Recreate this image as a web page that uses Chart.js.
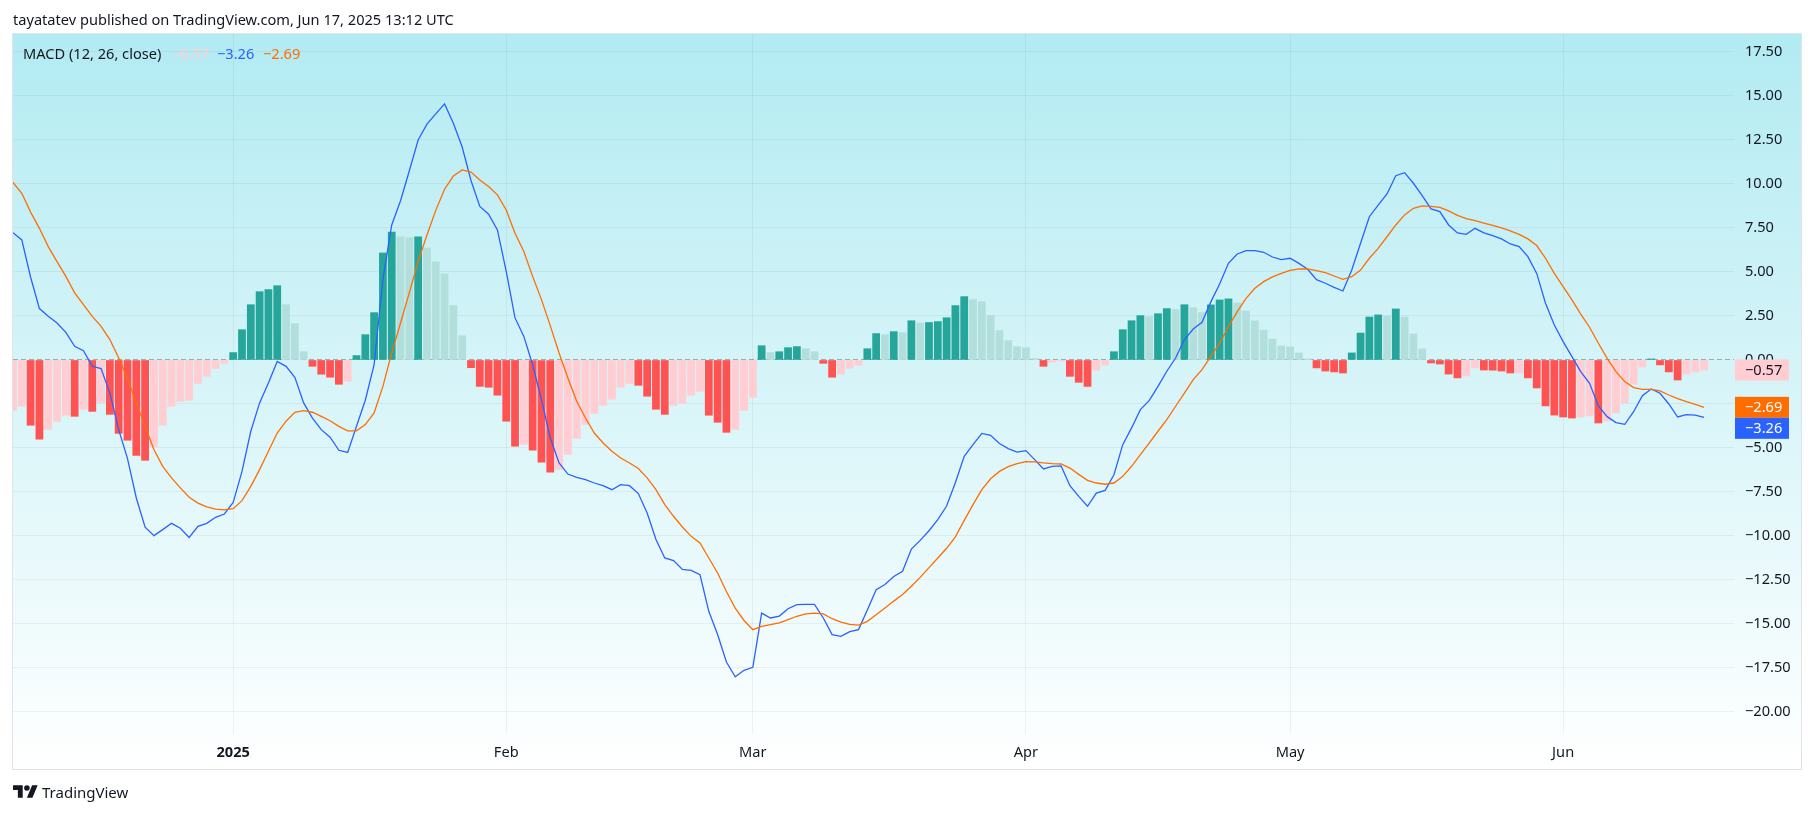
<!DOCTYPE html>
<html>
<head>
<meta charset="utf-8">
<title>MACD</title>
<script src="https://cdn.jsdelivr.net/npm/chart.js@4/dist/chart.umd.min.js"></script>
<style>
  html, body { margin: 0; padding: 0; background: #fff; }
  body { width: 1814px; height: 814px; overflow: hidden; position: relative; font-family: "Noto Sans", sans-serif; color: #131722; }
  #mycanvas { position: absolute; left: 0; top: 0; }
  .txt { position: absolute; white-space: nowrap; font-size: 14.6px; line-height: 18px; }
</style>
</head>
<body>
<canvas id="mycanvas" width="1814" height="814"></canvas>
<div class="txt" style="left:13px;top:10px">tayatatev published on TradingView.com, Jun 17, 2025 13:12 UTC</div>
<div class="txt" style="left:23px;top:44px">MACD (12, 26, close)</div>
<div class="txt" style="left:172px;top:44px;color:#ffcdd2">−0.57</div>
<div class="txt" style="left:217px;top:44px;color:#2962ff">−3.26</div>
<div class="txt" style="left:263px;top:44px;color:#ff6d00">−2.69</div>
<svg style="position:absolute;left:13px;top:785px" width="25" height="13" viewBox="0 4 36 18"><path fill="#131722" d="M14 22H7V11H0V4h14v18zM28 22h-8l7.5-18h8L28 22z"/><circle fill="#131722" cx="20" cy="8" r="4"/></svg>
<div class="txt" style="left:42px;top:783px;font-size:15px">TradingView</div>
<script>
// days counted from 1 Jan 2025, first bar is 7 Dec 2024
var firstDay = -25;

var histogram = [
  -2.86,-2.63,-3.71,-4.5,-3.94,-3.48,-3.14,-3.2,-2.8,-2.92,-2.42,-3.09,-4.17,-4.56,-5.42,-5.7,-4.9,-3.71,-2.63,-2.35,-2.29,-1.33,-0.93,-0.49,-0.19,
  0.42,1.72,3.14,3.88,4.0,4.22,3.14,2.06,0.47,-0.36,-0.81,-0.98,-1.38,-1.21,0.25,1.44,2.69,6.08,7.27,6.99,6.95,7.0,6.36,5.57,4.9,3.09,1.38,
  -0.44,-1.5,-1.55,-2.0,-3.48,-4.9,-4.79,-5.13,-5.81,-6.38,-6.21,-5.36,-4.45,-3.66,-3.03,-2.58,-2.23,-1.55,-1.33,-1.44,-2.06,-2.8,-3.09,-2.58,-2.46,-2.0,-1.78,-3.14,-3.54,-4.11,-3.94,-2.86,-2.12,
  0.81,0.42,0.47,0.7,0.76,0.64,0.47,-0.19,-0.98,-0.81,-0.47,-0.3,0.64,1.5,1.44,1.61,1.55,2.23,2.1,2.13,2.18,2.4,3.09,3.6,3.43,3.31,2.52,1.67,1.1,0.76,0.7,0.08,
  -0.36,-0.13,-0.06,-0.93,-1.27,-1.5,-0.59,-0.3,0.47,1.72,2.23,2.52,2.46,2.63,2.92,2.86,3.14,2.97,2.69,3.13,3.41,3.47,3.24,2.78,2.22,1.7,1.19,0.8,0.74,0.4,0.06,
  -0.45,-0.63,-0.68,-0.74,0.4,1.53,2.44,2.56,2.5,2.9,2.44,1.48,0.63,-0.17,-0.23,-0.8,-1.02,-0.91,-0.45,-0.57,-0.58,-0.63,-0.74,-0.73,-1.02,-1.59,-2.61,-3.13,-3.24,-3.3,-3.24,-3.18,-3.58,-3.47,-3.01,-2.44,-1.36,-0.4,
  0.06,-0.28,-0.68,-1.14,-0.8,-0.68,-0.57
];

var macdLine = [
  7.23,6.82,4.7,2.92,2.48,2.1,1.57,0.78,0.53,-0.36,-0.49,-1.88,-3.96,-5.6,-7.84,-9.5,-9.98,-9.64,-9.28,-9.56,-10.08,-9.45,-9.28,-8.94,-8.75,
  -8.09,-6.33,-4.05,-2.44,-1.31,-0.08,-0.36,-0.98,-2.44,-3.3,-3.96,-4.39,-5.13,-5.25,-3.77,-2.29,-0.27,4.58,7.67,9.05,10.75,12.5,13.4,13.98,14.55,13.45,12.1,
  10.2,8.72,8.28,7.39,5.03,2.39,1.34,-0.27,-2.25,-4.43,-5.85,-6.48,-6.67,-6.8,-6.99,-7.14,-7.37,-7.08,-7.14,-7.59,-8.69,-10.2,-11.25,-11.4,-11.9,-11.95,-12.2,-14.28,-15.6,-17.16,-18.0,-17.63,-17.46,
  -14.38,-14.66,-14.55,-14.13,-13.9,-13.88,-13.88,-14.66,-15.6,-15.7,-15.44,-15.32,-14.2,-13.05,-12.76,-12.3,-12.0,-10.74,-10.25,-9.7,-9.07,-8.3,-6.96,-5.47,-4.81,-4.17,-4.28,-4.75,-5.04,-5.23,-5.15,-5.66,
  -6.19,-6.04,-6.02,-7.14,-7.75,-8.31,-7.56,-7.41,-6.52,-4.81,-3.86,-2.82,-2.31,-1.5,-0.64,0.11,1.16,1.76,2.14,3.3,4.32,5.49,6.02,6.21,6.21,6.12,5.85,5.7,5.78,5.49,5.15,
  4.56,4.36,4.13,3.92,5.11,6.63,8.14,8.8,9.43,10.47,10.64,10.04,9.34,8.58,8.43,7.67,7.22,7.14,7.48,7.22,7.06,6.88,6.59,6.44,5.87,4.92,3.22,1.99,1.04,0.19,-0.66,-1.33,-2.61,-3.22,-3.56,-3.66,-2.94,-2.03,
  -1.65,-1.89,-2.5,-3.24,-3.11,-3.13,-3.26
];

var signalLine = [
  10.09,9.47,8.4,7.48,6.44,5.59,4.75,3.81,3.14,2.48,1.91,1.16,0.11,-1.05,-2.44,-3.77,-5.09,-6.04,-6.7,-7.27,-7.8,-8.13,-8.35,-8.47,-8.52,
  -8.45,-7.99,-7.18,-6.23,-5.19,-4.15,-3.48,-2.97,-2.88,-2.97,-3.2,-3.45,-3.77,-4.03,-4.02,-3.67,-3.01,-1.5,0.4,2.1,3.83,5.6,7.1,8.5,9.7,10.45,10.8,
  10.68,10.23,9.85,9.38,8.52,7.2,6.16,4.75,3.43,1.95,0.4,-1.02,-2.35,-3.3,-4.15,-4.72,-5.19,-5.57,-5.85,-6.17,-6.7,-7.37,-8.22,-8.88,-9.49,-10.02,-10.4,-11.25,-12.1,-13.15,-14.1,-14.8,-15.32,
  -15.13,-15.04,-14.94,-14.75,-14.56,-14.43,-14.38,-14.43,-14.7,-14.89,-15.02,-15.06,-14.85,-14.47,-14.09,-13.7,-13.33,-12.86,-12.35,-11.8,-11.25,-10.7,-10.05,-9.11,-8.22,-7.37,-6.75,-6.33,-6.06,-5.89,-5.78,-5.79,
  -5.85,-5.89,-5.91,-6.14,-6.5,-6.84,-6.99,-7.06,-6.99,-6.61,-6.04,-5.38,-4.72,-4.05,-3.39,-2.63,-1.88,-1.12,-0.55,0.21,0.95,1.89,2.75,3.5,4.07,4.45,4.72,4.92,5.09,5.17,5.17,
  5.08,4.96,4.77,4.58,4.73,5.11,5.78,6.34,7.0,7.67,8.24,8.62,8.75,8.73,8.67,8.47,8.22,8.03,7.92,7.78,7.65,7.5,7.33,7.14,6.88,6.5,5.78,4.92,4.17,3.41,2.61,1.86,0.95,0.09,-0.66,-1.23,-1.57,-1.67,
  -1.67,-1.76,-1.99,-2.2,-2.37,-2.52,-2.69
];

var yTicks = [17.5,15,12.5,10,7.5,5,2.5,0,-2.5,-5,-7.5,-10,-12.5,-15,-17.5,-20];
var monthTicks = [0,31,59,90,120,151];
var monthLabels = ["2025","Feb","Mar","Apr","May","Jun"];

var priceLabels = [
  { value: -0.57, back: "#ffcdd2", text: "#131722" },
  { value: -2.69, back: "#ff6d00", text: "#ffffff" },
  { value: -3.26, back: "#2962ff", text: "#ffffff" }
];

function minus(v, digits) {
  return (v < 0 ? "\u2212" : "") + Math.abs(v).toFixed(digits);
}

function points(values) {
  return values.map(function (v, i) { return { x: firstDay + i, y: v }; });
}

// same colour rule as the TradingView histogram
function barColour(ctx) {
  var v = histogram[ctx.dataIndex];
  var prev = ctx.dataIndex > 0 ? histogram[ctx.dataIndex - 1] : v;
  if (v >= 0) return v > prev ? "#26a69a" : "#b2dfdb";
  return v < prev ? "#ff5252" : "#ffcdd2";
}

var frame = { left: 13, top: 34, right: 1801, bottom: 769 };

var backdrop = {
  id: "backdrop",
  beforeDraw: function (chart) {
    var c = chart.ctx;
    var g = c.createLinearGradient(0, frame.top, 0, frame.bottom);
    g.addColorStop(0, "#b2ebf2");
    g.addColorStop(1, "#ffffff");
    c.save();
    c.fillStyle = g;
    c.fillRect(frame.left, frame.top, frame.right - frame.left, frame.bottom - frame.top);
    c.strokeStyle = "#e0e3eb";
    c.lineWidth = 1;
    c.strokeRect(frame.left - 0.5, frame.top - 0.5, frame.right - frame.left + 1, frame.bottom - frame.top + 1);
    c.restore();
  },
  afterDraw: function (chart) {
    var c = chart.ctx, y = chart.scales.y;
    var boxH = 21, lastBottom = -1;
    c.save();
    c.font = "14.6px 'Noto Sans'";
    c.textBaseline = "middle";
    c.textAlign = "left";
    priceLabels.forEach(function (p) {
      var top = y.getPixelForValue(p.value) - boxH / 2;
      if (top < lastBottom) top = lastBottom;
      c.fillStyle = p.back;
      c.fillRect(1735, top, 54, boxH);
      c.fillStyle = p.text;
      c.fillText(minus(p.value, 2), 1745, top + boxH / 2 + 0.5);
      lastBottom = top + boxH;
    });
    c.restore();
  }
};

var ctx = document.getElementById("mycanvas");
var myChart = new Chart(ctx, {
  data: {
    datasets: [
      { type: "line", label: "Signal", data: points(signalLine), borderColor: "#ff6d00", borderWidth: 1.3, pointRadius: 0, tension: 0, order: 0 },
      { type: "line", label: "MACD", data: points(macdLine), borderColor: "#2962ff", borderWidth: 1.3, pointRadius: 0, tension: 0, order: 1 },
      { type: "bar", label: "Histogram", data: points(histogram), backgroundColor: barColour, barThickness: 7.1, order: 2 }
    ]
  },
  options: {
    responsive: false,
    animation: false,
    layout: { padding: { left: 13, top: 34, right: 13, bottom: 45 } },
    plugins: { legend: { display: false }, tooltip: { enabled: false } },
    scales: {
      x: {
        type: "linear",
        offset: false,
        min: firstDay,
        max: 170.4,
        afterBuildTicks: function (axis) {
          axis.ticks = monthTicks.map(function (d) { return { value: d }; });
        },
        afterFit: function (axis) { axis.height = 35; },
        grid: { offset: false, color: "rgba(42,46,57,0.06)", drawTicks: false },
        border: { display: false },
        ticks: {
          autoSkip: false,
          maxRotation: 0,
          padding: 10,
          color: "#131722",
          font: function (c) {
            return { family: "Noto Sans", size: 14.6, weight: c.index === 0 ? "bold" : "normal" };
          },
          callback: function (v) { return monthLabels[monthTicks.indexOf(v)]; }
        }
      },
      y: {
        position: "right",
        min: -21.25,
        max: 18.52,
        afterBuildTicks: function (axis) {
          axis.ticks = yTicks.map(function (v) { return { value: v }; });
        },
        afterFit: function (axis) { axis.width = 67; },
        grid: {
          drawTicks: false,
          color: function (c) { return c.tick && c.tick.value === 0 ? "rgba(120,123,134,0.6)" : "rgba(42,46,57,0.06)"; }
        },
        border: {
          display: false,
          dash: function (c) { return c.tick && c.tick.value === 0 ? [5, 3] : []; }
        },
        ticks: {
          autoSkip: false,
          padding: 11,
          color: "#131722",
          font: { family: "Noto Sans", size: 14.6 },
          callback: function (v) { return minus(v, 2); }
        }
      }
    }
  },
  plugins: [backdrop]
});
</script>
</body>
</html>
